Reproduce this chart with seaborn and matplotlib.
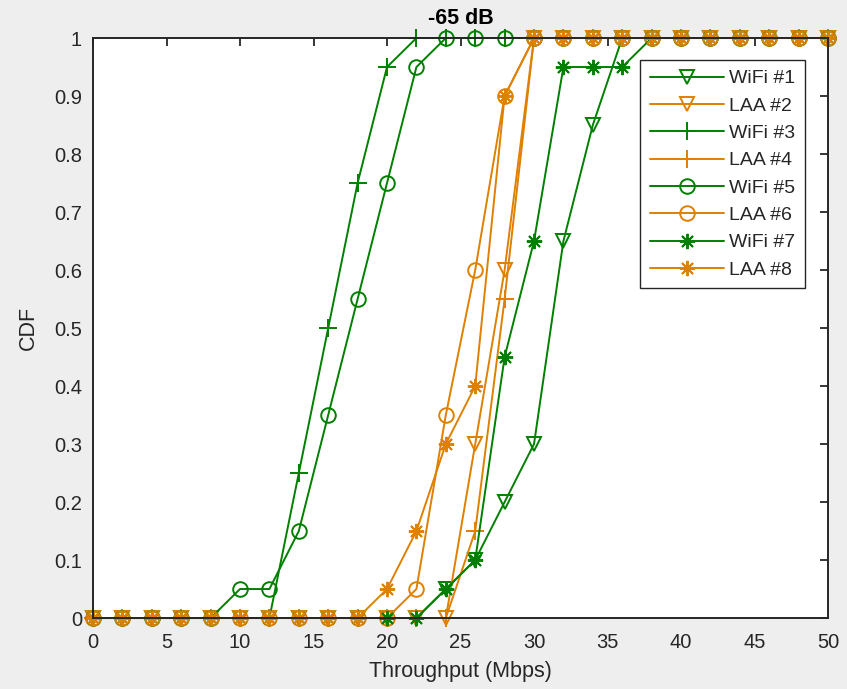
import numpy as np
import pandas as pd
import matplotlib
matplotlib.use("Agg")
import matplotlib.pyplot as plt
import seaborn as sns

throughput = list(range(0, 52, 2))  # 0..50 Mbps

def pad(start_vals, n=26):
    return start_vals + [1.0] * (n - len(start_vals))

wifi1 = pad([0]*12 + [0.05, 0.10, 0.20, 0.30, 0.65, 0.85])
laa2 = pad([0]*13 + [0.30, 0.60])
wifi3 = pad([0]*7 + [0.25, 0.50, 0.75, 0.95])
laa4 = pad([0]*13 + [0.15, 0.55])
wifi5 = pad([0]*5 + [0.05, 0.05, 0.15, 0.35, 0.55, 0.75, 0.95])
laa6 = pad([0]*11 + [0.05, 0.35, 0.60, 0.90])
wifi7 = pad([0]*12 + [0.05, 0.10, 0.45, 0.65, 0.95, 0.95, 0.95])
laa8 = pad([0]*10 + [0.05, 0.15, 0.30, 0.40, 0.90])

series_names = ["WiFi #1", "LAA #2", "WiFi #3", "LAA #4",
                "WiFi #5", "LAA #6", "WiFi #7", "LAA #8"]
series_vals = [wifi1, laa2, wifi3, laa4, wifi5, laa6, wifi7, laa8]

GREEN = "#008000"
ORANGE = "#df8000"
colors = [GREEN, ORANGE] * 4
markers = ["v", "v", "+", "+", "o", "o", (8, 2, 0), (8, 2, 0)]
msizes = [10.5, 10.5, 13, 13, 10.5, 10.5, 11, 11]

sns.set_style("white")
plt.rcParams["font.family"] = ["Liberation Sans", "DejaVu Sans"]

fig = plt.figure(figsize=(8.47, 6.89), dpi=100)
fig.patch.set_facecolor("#eeeeee")
ax = fig.add_axes([0.1098, 0.1030, 0.8678, 0.8418])
ax.set_facecolor("white")

for name, vals, c, m, ms in zip(series_names, series_vals, colors, markers, msizes):
    df = pd.DataFrame({"x": throughput, "y": vals})
    sns.lineplot(data=df, x="x", y="y", ax=ax, color=c, marker=m,
                 markersize=ms, mfc="none", mec=c, mew=1.4, linewidth=1.4,
                 label=name, clip_on=False)

ax.set_xlim(0, 50)
ax.set_ylim(0, 1)
ax.set_xticks(np.arange(0, 51, 5))
ax.set_yticks(np.round(np.arange(0, 1.01, 0.1), 1))
ax.set_yticklabels(["0"] + [f"{v:.1f}" for v in np.arange(0.1, 0.95, 0.1)] + ["1"])
ax.tick_params(direction="in", length=6, width=1.3, top=True, right=True,
               labelsize=14.5, colors="#262626")
ax.tick_params(axis="x", pad=11)
ax.tick_params(axis="y", pad=8)
for s in ax.spines.values():
    s.set_visible(True)
    s.set_color("#262626")
    s.set_linewidth(1.4)

ax.set_xlabel("Throughput (Mbps)", fontsize=15.5, color="#262626", labelpad=6)
ax.set_ylabel("CDF", fontsize=15.5, color="#262626", labelpad=11)
ax.set_title("-65 dB", fontsize=15.5, fontweight="bold", color="black", pad=10)

leg = ax.legend(loc="upper right", bbox_to_anchor=(0.969, 0.962),
                borderaxespad=0, fontsize=14, handlelength=3.8,
                handletextpad=0.3, borderpad=0.5, labelspacing=0.5,
                frameon=True, fancybox=False,
                edgecolor="#262626", framealpha=1)
leg.get_frame().set_linewidth(1.0)

fig.savefig("out.png", dpi=100, facecolor=fig.get_facecolor())
